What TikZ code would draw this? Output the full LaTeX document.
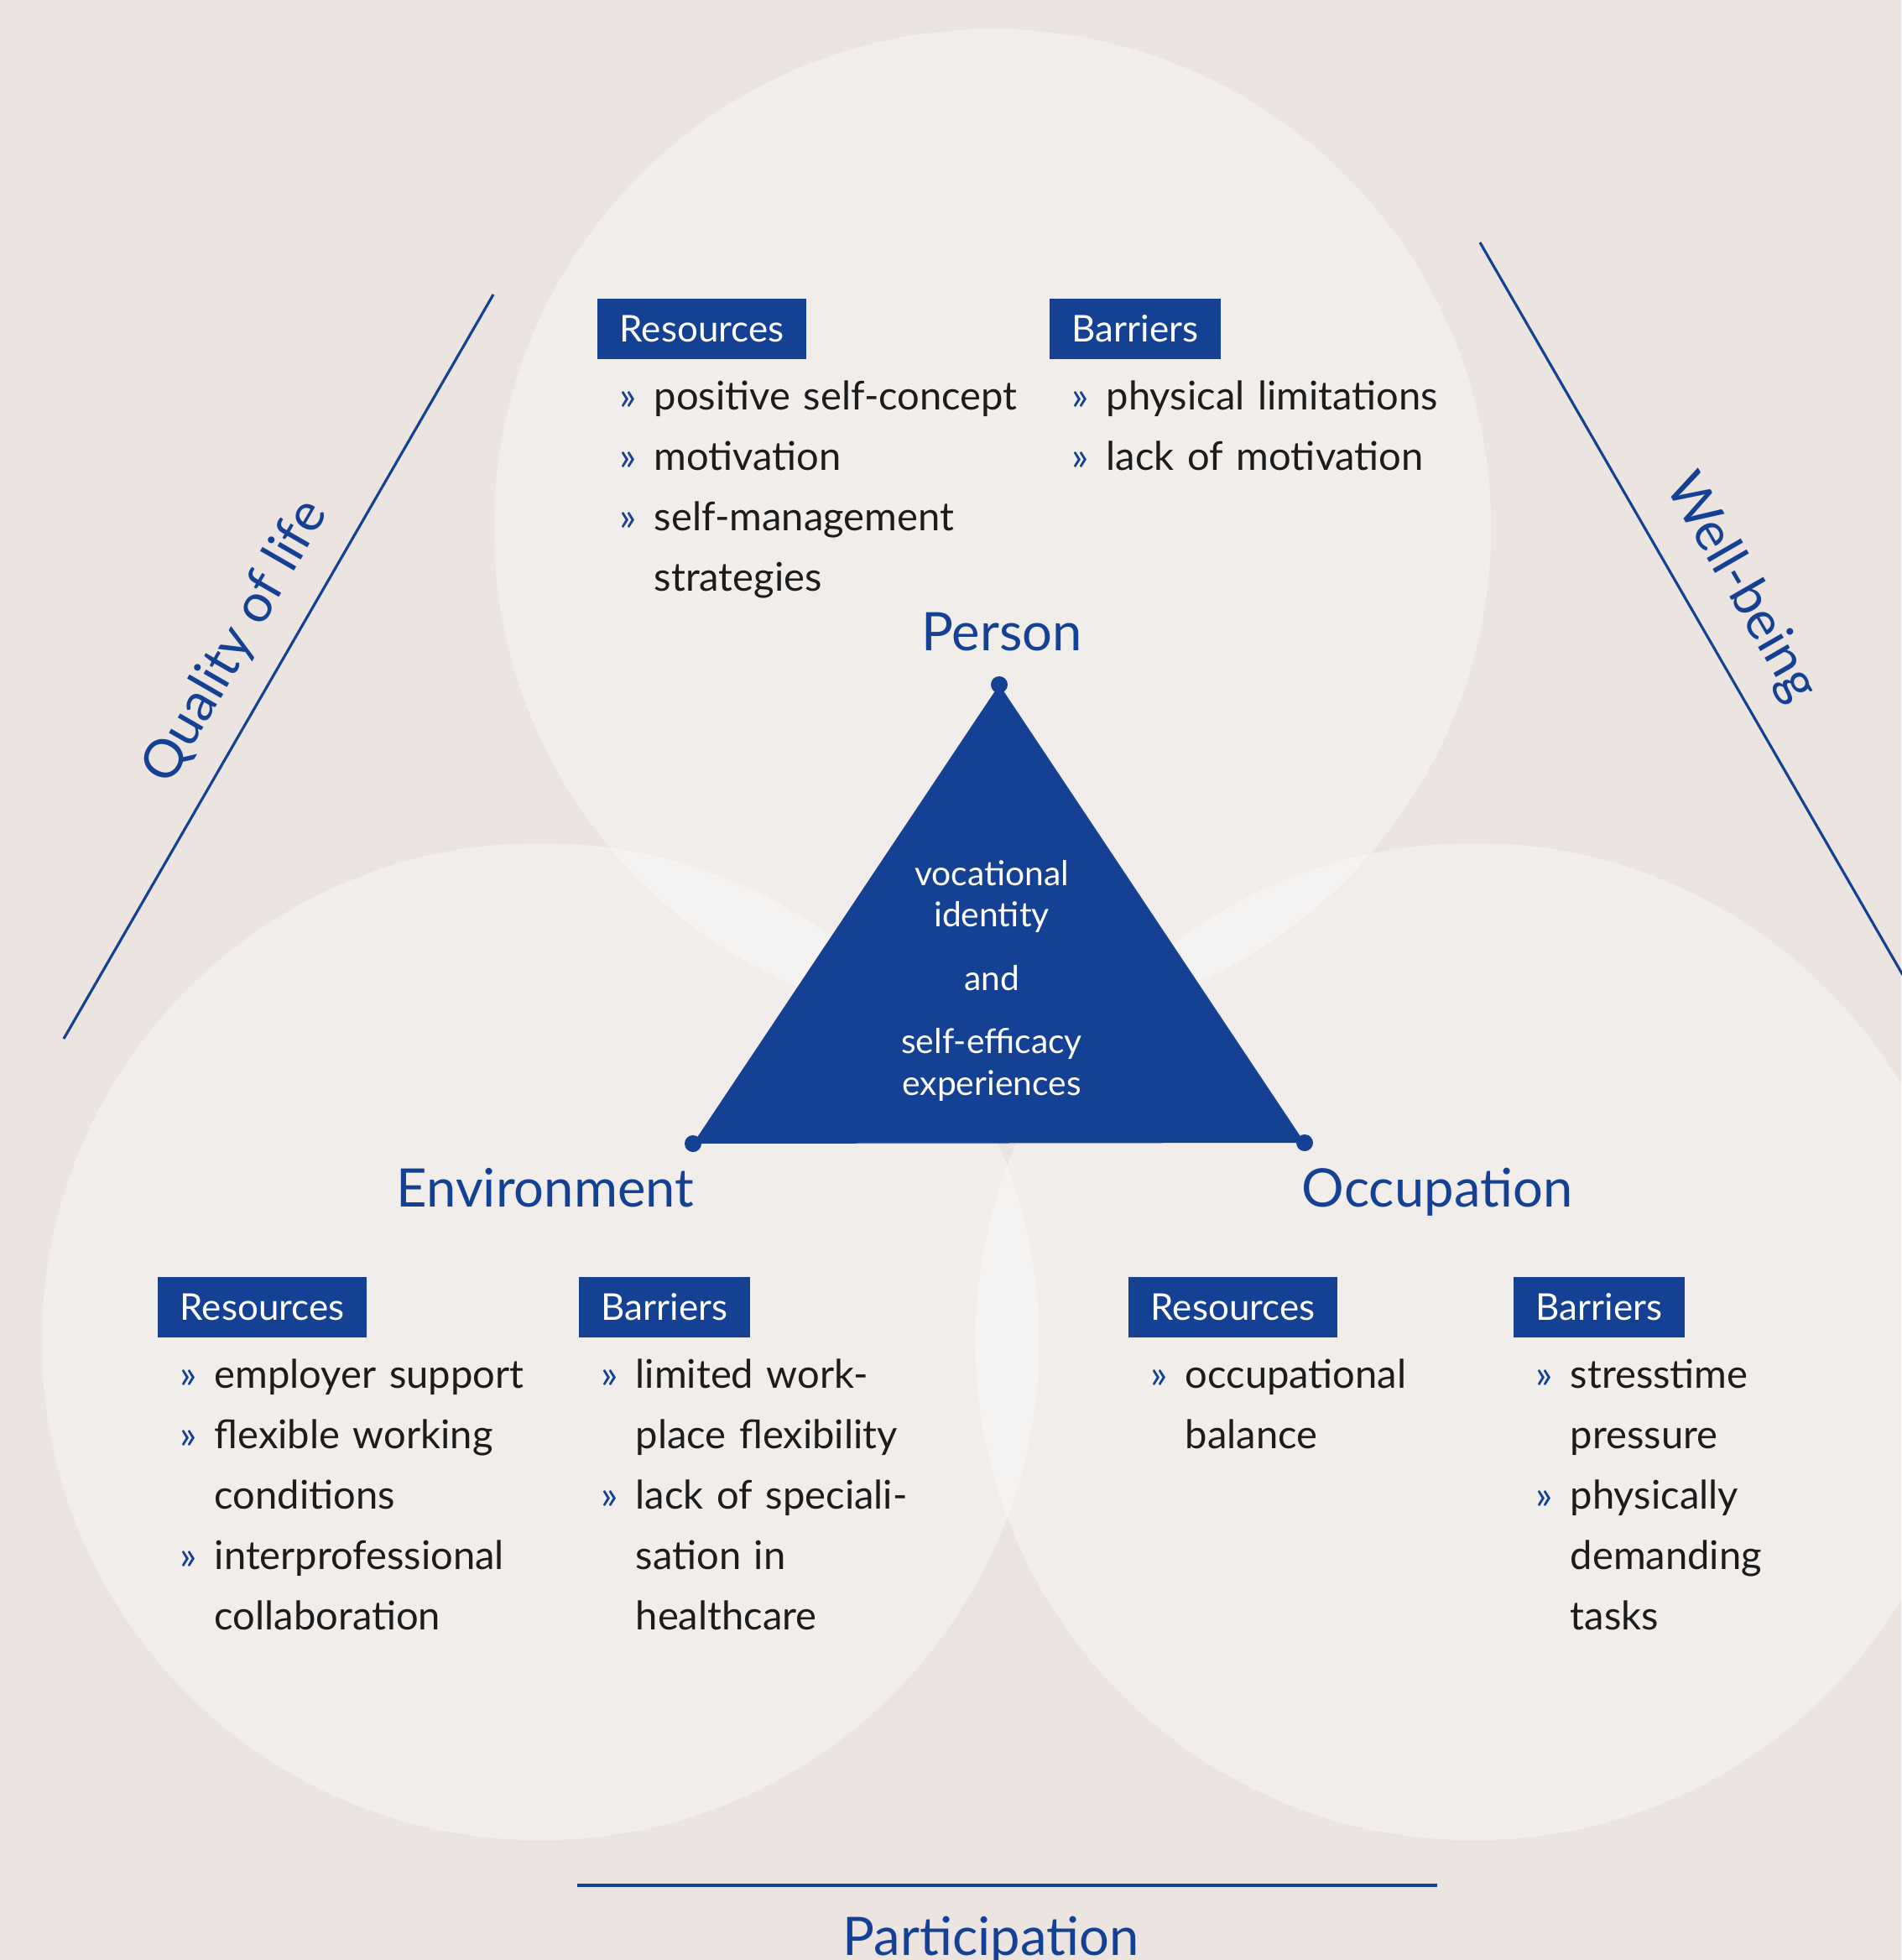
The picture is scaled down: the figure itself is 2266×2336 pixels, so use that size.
\documentclass[tikz,border=0pt]{standalone}
\usepackage{fontspec}
\setmainfont{Lato}
\usetikzlibrary{positioning}
\definecolor{pblue}{HTML}{154194}
\definecolor{bgrose}{HTML}{EBE4E1}
\definecolor{ink}{HTML}{1C1C1C}
\newcommand{\bul}{\makebox[0.41cm][l]{\textcolor{pblue}{»}}}
\newcommand{\ind}{\hspace*{0.41cm}}

\begin{document}
\begin{tikzpicture}[x=0.01cm,y=-0.01cm,
    zone/.style={fill=white,fill opacity=0.35},
    tag/.style={fill=pblue,text=white,anchor=north west,inner xsep=0.27cm,inner ysep=0pt,
      minimum height=0.72cm,font=\fontsize{12.5}{15}\selectfont},
    items/.style={anchor=base west,inner sep=0pt,text width=6cm,align=left,text=ink,
      font=\fontsize{13.4}{20.5}\selectfont},
    head/.style={text=pblue,inner sep=0pt,font=\fontsize{18}{22}\selectfont},
    rule/.style={draw=pblue,line width=0.9pt},
    corner/.style={circle,fill=pblue,inner sep=0pt,minimum size=0.2cm}]
  \useasboundingbox (0,0) rectangle (2266,2336);
  \fill[bgrose] (0,0) rectangle (2266,2336);
  \fill[zone] (1183,629) circle[radius=5.94cm];
  \fill[zone] (644,1599) circle[radius=5.94cm];
  \fill[zone] (1757,1599) circle[radius=5.94cm];

  \node[corner] (top) at (1191,816) {};
  \node[corner] (left) at (826,1363) {};
  \node[corner] (right) at (1555,1362) {};
  \fill[pblue] (top.center) -- (left.center) -- (right.center) -- cycle;
  \node[text=white,anchor=base,inner sep=0pt,text width=4cm,align=center,
    font=\fontsize{11.6}{14.1}\selectfont] (core) at (1182,1055)
    {vocational\\identity\\[7.4pt]and\\[7.4pt]self-efficacy\\experiences};

  \node[head,anchor=base] (person) at (1194,775) {Person};
  \node[head,anchor=base] (env) at (650,1438) {Environment};
  \node[head,anchor=base] (occ) at (1713,1438) {Occupation};

  \node[tag] (pres) at (711,355) {Resources};
  \node[items] (preslist) at ([shift={(27,133)}]pres.north west)
    {\bul positive self-concept\\\bul motivation\\\bul self-management\\\ind strategies};
  \node[tag] (pbar) at (1250,355) {Barriers};
  \node[items] (pbarlist) at ([shift={(27,133)}]pbar.north west)
    {\bul physical limitations\\\bul lack of motivation};

  \node[tag] (eres) at (187,1521) {Resources};
  \node[items] (ereslist) at ([shift={(27,133)}]eres.north west)
    {\bul employer support\\\bul flexible working\\\ind conditions\\\bul interprofessional\\\ind collaboration};
  \node[tag] (ebar) at (689,1521) {Barriers};
  \node[items] (ebarlist) at ([shift={(27,133)}]ebar.north west)
    {\bul limited work-\\\ind place flexibility\\\bul lack of speciali-\\\ind sation in\\\ind healthcare};

  \node[tag] (ores) at (1344,1521) {Resources};
  \node[items] (oreslist) at ([shift={(27,133)}]ores.north west)
    {\bul occupational\\\ind balance};
  \node[tag] (obar) at (1803,1521) {Barriers};
  \node[items] (obarlist) at ([shift={(27,133)}]obar.north west)
    {\bul stresstime\\\ind pressure\\\bul physically\\\ind demanding\\\ind tasks};

  \coordinate (qlow) at (76,1238);
  \coordinate (qhigh) at (588,351);
  \draw[rule] (qlow) -- node[head,sloped,above=0.28cm] (quality) {Quality of life} (qhigh);
  \coordinate (whigh) at (1764,289);
  \coordinate (wlow) at (2276,1176);
  \draw[rule] (whigh) -- node[head,sloped,above=0.33cm] (wellbeing) {Well-being} (wlow);
  \coordinate (pleft) at (688,2247);
  \coordinate (pright) at (1713,2247);
  \draw[rule] (pleft) -- (pright);
  \node[head,anchor=base] (particip) at (1181,2330) {Participation};
\end{tikzpicture}
\end{document}
